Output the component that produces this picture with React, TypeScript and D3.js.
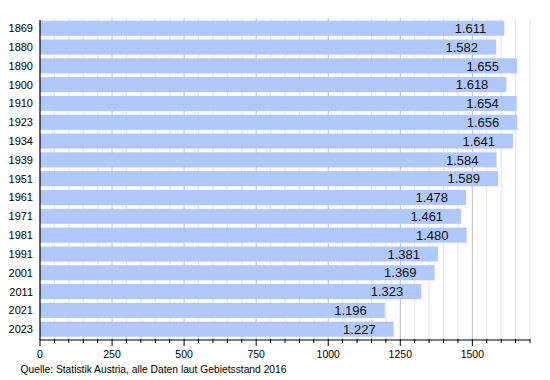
import React from "react";
import * as d3 from "d3";

const years = ["1869","1880","1890","1900","1910","1923","1934","1939","1951","1961","1971","1981","1991","2001","2011","2021","2023"];
const values = [1611,1582,1655,1618,1654,1656,1641,1584,1589,1478,1461,1480,1381,1369,1323,1196,1227];
const majorTicks = [0,250,500,750,1000,1250,1500];
const sourceText = "Quelle: Statistik Austria, alle Daten laut Gebietsstand 2016";

export default function App() {
  const W = 550, H = 380;
  const left = 40, right = 530, top = 20, bottom = 340;
  const x = d3.scaleLinear().domain([0, 1700]).range([left, right]);
  const y = d3.scaleBand<string>().domain(years).range([18.8, 338.6]).paddingInner(0.2).paddingOuter(0.1);
  const minor = d3.range(0, 1701, 50);
  const fmt = (v: number) => d3.format(",")(v).replace(/,/g, ".");
  const font = "'Liberation Sans', Arial, sans-serif";
  return (
    <svg width={W} height={H} style={{ position: "absolute", left: 0, top: 0, background: "#fff" }} fontFamily={font}>
      {minor.filter(v => v % 250 !== 0).map(v => (
        <line key={"mg" + v} x1={x(v)} x2={x(v)} y1={top - 2} y2={bottom} stroke="#e4e4e4" strokeWidth={1} />
      ))}
      {majorTicks.filter(v => v > 0).map(v => (
        <line key={"Mg" + v} x1={x(v)} x2={x(v)} y1={top - 2} y2={bottom} stroke="#bdbdbd" strokeWidth={1} />
      ))}
      {years.map((yr, i) => (
        <g key={yr}>
          <rect x={x(0)} y={y(yr)} width={x(values[i]) - x(0)} height={y.bandwidth()} fill="#b0c8fb" />
          <text x={x(values[i]) - 18} y={(y(yr) ?? 0) + y.bandwidth() / 2} dy="0.36em" textAnchor="end" fontSize={13} fill="#111">{fmt(values[i])}</text>
          <text x={33} y={(y(yr) ?? 0) + y.bandwidth() / 2} dy="0.36em" textAnchor="end" fontSize={11} fill="#000">{yr}</text>
        </g>
      ))}
      <line x1={left} x2={left} y1={top} y2={bottom} stroke="#000" strokeWidth={1.2} />
      <line x1={left} x2={right} y1={bottom} y2={bottom} stroke="#000" strokeWidth={1.2} />
      {minor.map(v => (
        <line key={"t" + v} x1={x(v)} x2={x(v)} y1={bottom - 1} y2={bottom + (v % 250 === 0 ? 6 : 3)} stroke="#000" strokeWidth={1} />
      ))}
      {majorTicks.map(v => (
        <text key={"l" + v} x={x(v)} y={358} textAnchor="middle" fontSize={10.5} fill="#000">{v}</text>
      ))}
      <text x={20.5} y={373} fontSize={11.5} textLength={266} lengthAdjust="spacingAndGlyphs" fill="#000">{sourceText}</text>
    </svg>
  );
}
